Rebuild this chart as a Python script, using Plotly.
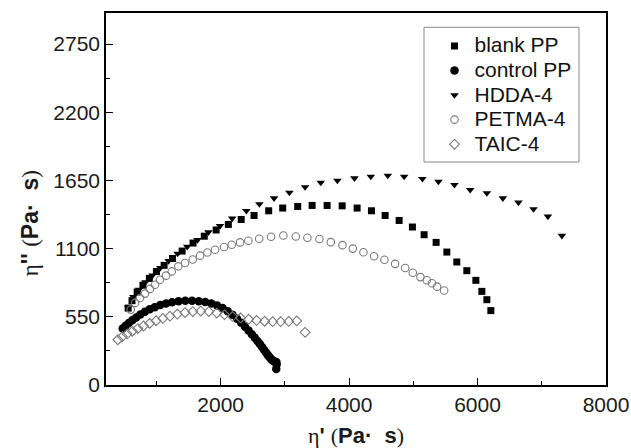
import plotly.graph_objects as go

# eta' (x) and eta'' (y) values, Pa·s
blank_x = [560, 620, 700, 790, 890, 1000, 1120, 1250, 1400, 1570, 1745, 1930, 2120, 2320,
           2520, 2748, 2966, 3200, 3424, 3658, 3892, 4125, 4348, 4561, 4779, 4986, 5168,
           5355, 5522, 5677, 5833, 5974, 6067, 6145, 6207]
blank_y = [620, 680, 750, 805, 860, 915, 965, 1020, 1080, 1145, 1200, 1250, 1295, 1335,
           1367, 1405, 1427, 1440, 1448, 1448, 1445, 1427, 1405, 1367, 1327, 1274, 1212,
           1150, 1072, 992, 922, 844, 755, 688, 600]

control_x = [475, 520, 570, 625, 685, 750, 820, 895, 975, 1060, 1150, 1245, 1345, 1450,
             1555, 1660, 1760, 1855, 1945, 2030, 2110, 2185, 2255, 2320, 2380, 2435, 2485,
             2530, 2572, 2610, 2645, 2677, 2706, 2732, 2756, 2778, 2800, 2822, 2845, 2868,
             2872, 2866]
control_y = [455, 478, 500, 522, 545, 568, 590, 610, 628, 645, 658, 668, 675, 679,
             679, 676, 669, 658, 641, 620, 595, 566, 535, 502, 470, 440, 410,
             382, 355, 330, 306, 283, 262, 243, 227, 213, 202, 194, 188, 186,
             165, 130]

hdda_x = [560, 640, 730, 830, 940, 1060, 1190, 1330, 1480, 1640, 1810, 1990, 2180, 2400,
          2603, 2832, 3070, 3315, 3559, 3818, 4083, 4338, 4603, 4857, 5141, 5391, 5640,
          5885, 6145, 6394, 6637, 6871, 7095, 7313]
hdda_y = [625, 710, 770, 830, 885, 945, 1000, 1060, 1115, 1170, 1232, 1283, 1343, 1405,
          1459, 1507, 1552, 1596, 1633, 1649, 1668, 1681, 1689, 1681, 1663, 1641, 1614,
          1574, 1548, 1507, 1472, 1419, 1359, 1204]

petma_x = [600, 667, 745, 822, 900, 978, 1056, 1150, 1238, 1341, 1445, 1565, 1679, 1793,
           1913, 2053, 2173, 2302, 2431, 2600, 2785, 2977, 3170, 3351, 3538, 3715, 3896,
           4058, 4223, 4389, 4550, 4716, 4873, 4992, 5110, 5210, 5290, 5370, 5480]
petma_y = [608, 662, 702, 737, 775, 809, 849, 882, 916, 957, 984, 1012, 1043, 1069,
           1091, 1113, 1131, 1150, 1163, 1180, 1195, 1206, 1198, 1188, 1177, 1152, 1128,
           1100, 1070, 1038, 1010, 977, 944, 905, 870, 845, 820, 793, 762]

taic_x = [400, 470, 545, 625, 710, 800, 895, 995, 1100, 1210, 1325, 1445, 1565, 1690,
          1815, 1939, 2060, 2185, 2310, 2435, 2560, 2685, 2810, 2935, 3060, 3185, 3315]
taic_y = [365, 390, 412, 433, 455, 476, 497, 518, 537, 555, 571, 584, 592, 596,
          592, 580, 567, 553, 541, 530, 521, 514, 511, 511, 513, 517, 425]

y_ticks = [0, 550, 1100, 1650, 2200, 2750]
x_ticks = [2000, 4000, 6000, 8000]

SERIF = "Liberation Serif"
SANS = "Liberation Sans"

fig = go.Figure()


def legend_name(label):
    return f"<span style='font-size:21px'>{label}</span>"


fig.add_trace(go.Scatter(
    x=blank_x, y=blank_y, mode="markers", name=legend_name("blank PP"),
    marker=dict(symbol="square", size=7, color="black", line=dict(width=0))))
fig.add_trace(go.Scatter(
    x=control_x, y=control_y, mode="markers", name=legend_name("control PP"),
    marker=dict(symbol="circle", size=8.5, color="black", line=dict(width=0))))
fig.add_trace(go.Scatter(
    x=hdda_x, y=hdda_y, mode="markers", name=legend_name("HDDA-4"),
    marker=dict(symbol="triangle-down", size=7.5, color="black", line=dict(width=0))))
fig.add_trace(go.Scatter(
    x=petma_x, y=petma_y, mode="markers", name=legend_name("PETMA-4"),
    marker=dict(symbol="circle-open", size=7.5, color="#7a7a7a", line=dict(width=1.1))))
fig.add_trace(go.Scatter(
    x=taic_x, y=taic_y, mode="markers", name=legend_name("TAIC-4"),
    marker=dict(symbol="diamond-open", size=7.5, color="#7a7a7a", line=dict(width=1.1))))


def eta_title(primes):
    return (f"<span style='font-family:{SERIF}'>η</span><b>{primes}</b> "
            f"<span style='font-family:{SERIF}'>(</span><b>Pa·\u00a0\u00a0s</b>"
            f"<span style='font-family:{SERIF}'>)</span>")


axis_common = dict(
    showline=True, linecolor="black", linewidth=1.5, mirror=True,
    ticks="inside", ticklen=7, tickwidth=1.2, tickcolor="black",
    showgrid=False, zeroline=False, automargin=False,
    tickfont=dict(family=SANS, size=21, color="#1a1a1a"),
)

fig.update_xaxes(
    range=[215, 8000], tickvals=x_ticks, ticktext=[str(v) for v in x_ticks],
    minor=dict(ticks="inside", ticklen=4.5, tickwidth=1.2, tickcolor="black",
               tickvals=[1000, 3000, 5000, 7000]),
    title=dict(text=eta_title("'"), font=dict(family=SANS, size=22, color="#1a1a1a"),
               standoff=14),
    **axis_common)

fig.update_yaxes(
    range=[0, 3000], tickvals=y_ticks, ticktext=[str(v) for v in y_ticks],
    minor=dict(ticks="inside", ticklen=4.5, tickwidth=1.2, tickcolor="black",
               tickvals=[275, 825, 1375, 1925, 2475]),
    **axis_common)

# y-axis title, set slightly below the axis midpoint
fig.add_annotation(
    text=eta_title("''"), xref="paper", yref="paper", x=-0.152, y=0.435,
    xanchor="center", yanchor="middle", textangle=-90, showarrow=False,
    font=dict(family=SANS, size=23, color="#1a1a1a"))

# legend frame
fig.add_shape(type="rect", xref="paper", yref="paper",
              x0=0.636, x1=0.946, y0=0.5995, y1=0.9616,
              line=dict(color="#8a8a8a", width=1), fillcolor="white", layer="below")

fig.update_layout(
    width=631, height=448,
    margin=dict(l=106, r=25, t=13, b=63),
    paper_bgcolor="white", plot_bgcolor="white",
    showlegend=True,
    legend=dict(
        x=0.657, y=0.958, xanchor="left", yanchor="top",
        bgcolor="rgba(0,0,0,0)", borderwidth=0,
        font=dict(family=SANS, size=16.6, color="#111111"),
        tracegroupgap=0, itemwidth=30,
    ),
)

fig.write_html("out.html")
